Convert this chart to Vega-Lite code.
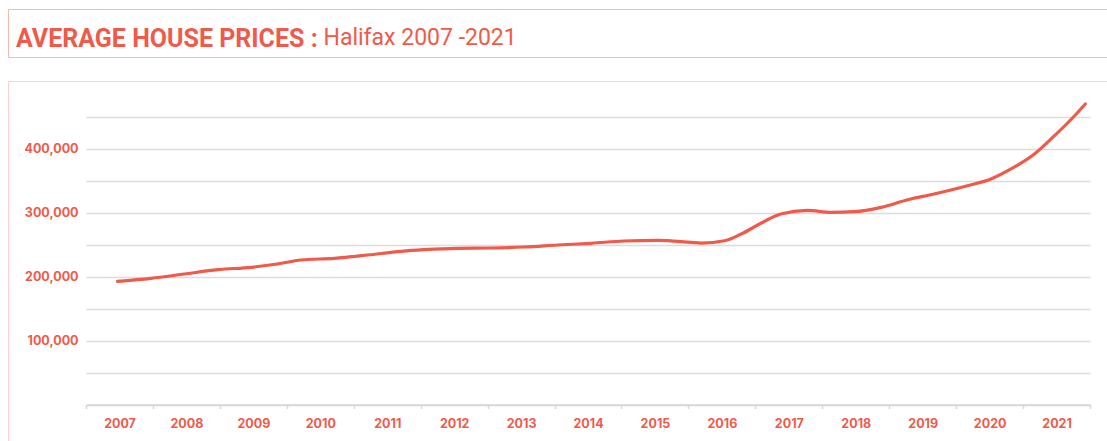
{
  "$schema": "https://vega.github.io/schema/vega-lite/v6.json",
  "background": "white",
  "padding": {"left": 7, "top": 8, "right": 0, "bottom": 0},
  "bounds": "flush",
  "spacing": 24,
  "datasets": {
    "prices": [
      {"year": 2007.47, "price": 192500},
      {"year": 2007.97, "price": 197200},
      {"year": 2008.47, "price": 203900},
      {"year": 2008.97, "price": 210600},
      {"year": 2009.47, "price": 214400},
      {"year": 2009.86, "price": 219500},
      {"year": 2010.21, "price": 225800},
      {"year": 2010.71, "price": 228400},
      {"year": 2011.21, "price": 233600},
      {"year": 2011.71, "price": 239400},
      {"year": 2012.05, "price": 241900},
      {"year": 2012.55, "price": 244100},
      {"year": 2013.05, "price": 244500},
      {"year": 2013.55, "price": 246100},
      {"year": 2014.05, "price": 249200},
      {"year": 2014.55, "price": 251900},
      {"year": 2015.04, "price": 255500},
      {"year": 2015.54, "price": 256600},
      {"year": 2016.04, "price": 253400},
      {"year": 2016.19, "price": 252300},
      {"year": 2016.54, "price": 255900},
      {"year": 2016.79, "price": 266400},
      {"year": 2017.09, "price": 283600},
      {"year": 2017.38, "price": 297700},
      {"year": 2017.78, "price": 303400},
      {"year": 2018.13, "price": 300300},
      {"year": 2018.48, "price": 301300},
      {"year": 2018.88, "price": 308100},
      {"year": 2019.28, "price": 320000},
      {"year": 2019.67, "price": 328900},
      {"year": 2020.17, "price": 341900},
      {"year": 2020.52, "price": 352300},
      {"year": 2020.82, "price": 368000},
      {"year": 2021.17, "price": 391400},
      {"year": 2021.47, "price": 420000},
      {"year": 2021.77, "price": 451200},
      {"year": 2021.93, "price": 469500}
    ]
  },
  "vconcat": [
    {
      "width": 1110,
      "height": 48,
      "view": {"stroke": "#f7b8ae", "strokeWidth": 1},
      "title": {
        "text": "AVERAGE HOUSE PRICES :",
        "anchor": "start",
        "orient": "top",
        "frame": "group",
        "offset": -35,
        "dy": 28,
        "baseline": "alphabetic",
        "dx": 8,
        "font": "Roboto",
        "fontSize": 25,
        "fontWeight": "bold",
        "color": "#ef5a4b"
      },
      "data": {"name": "prices"},
      "mark": {"type": "rule", "opacity": 0},
      "encoding": {}
    },
    {
      "width": 1110,
      "height": 370,
      "view": {"stroke": "#fbd2cc", "strokeWidth": 1},
      "data": {"name": "prices"},
      "mark": {"type": "line", "interpolate": "monotone", "color": "#ef5a4b", "strokeWidth": 3.2, "strokeCap": "round"},
      "encoding": {
        "x": {
          "field": "year",
          "type": "quantitative",
          "scale": {"domain": [2007, 2022], "range": [78, 1082], "nice": false, "zero": false},
          "axis": {
            "orient": "bottom",
            "offset": -46.5,
            "values": [2007, 2008, 2009, 2010, 2011, 2012, 2013, 2014, 2015, 2016, 2017, 2018, 2019, 2020, 2021, 2022],
            "format": "d",
            "labelExpr": "datum.value == 2022 ? '' : datum.label",
            "grid": false,
            "domainColor": "#d6d6d6",
            "domainWidth": 1.5,
            "tickColor": "#d6d6d6",
            "tickWidth": 1.5,
            "tickSize": 4,
            "labelOffset": 33.5,
            "labelPadding": 9,
            "labelFlush": false,
            "labelOverlap": false,
            "labelBound": false,
            "labelColor": "#ef5a4b",
            "labelFont": "Inter",
            "labelFontWeight": "bold",
            "labelFontSize": 12.5,
            "title": null
          }
        },
        "y": {
          "field": "price",
          "type": "quantitative",
          "scale": {"domain": [0, 450000], "range": [323.5, 35.5], "nice": false},
          "axis": {
            "orient": "left",
            "offset": -78,
            "values": [0, 50000, 100000, 150000, 200000, 250000, 300000, 350000, 400000, 450000],
            "format": ",d",
            "labelExpr": "datum.value % 100000 == 0 && datum.value > 0 ? datum.label : ''",
            "grid": true,
            "gridColor": "#dcdcdc",
            "gridWidth": 1.5,
            "domain": false,
            "ticks": false,
            "labelPadding": 8,
            "labelBaseline": "middle",
            "labelColor": "#ef5a4b",
            "labelFont": "Inter",
            "labelFontWeight": "bold",
            "labelFontSize": 12.5,
            "title": "Halifax 2007 -2021",
            "titleAngle": 0,
            "titleAlign": "left",
            "titleBaseline": "alphabetic",
            "titleX": 237,
            "titleY": -37,
            "titleFont": "Roboto",
            "titleFontSize": 23,
            "titleFontWeight": "normal",
            "titleColor": "#ef5a4b"
          }
        }
      }
    }
  ]
}
